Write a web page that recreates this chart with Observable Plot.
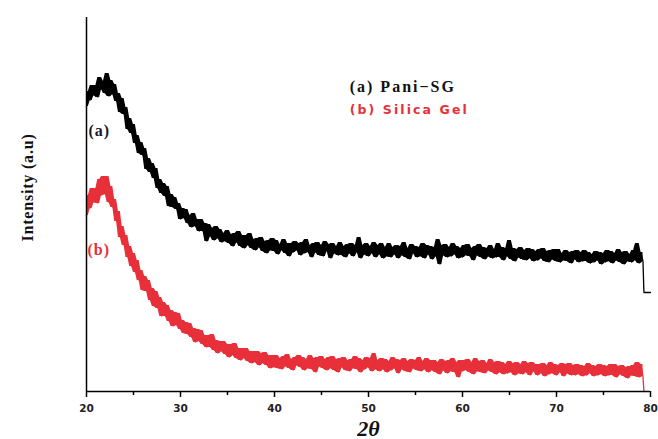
<!DOCTYPE html>
<html>
<head>
<meta charset="utf-8">
<script src="https://cdn.jsdelivr.net/npm/d3@7"></script>
<script src="https://cdn.jsdelivr.net/npm/@observablehq/plot@0.6"></script>
<style>
  html, body { margin: 0; padding: 0; background: #fff; }
  #chart { width: 658px; height: 439px; }
</style>
</head>
<body>
<div id="chart"></div>
<script>
// XRD scan: 2θ from 20°, step 0.2°
const scanStart = 20;
const scanStep = 0.2;

// (a) Pani-SG intensity (a.u.) (5 readings per degree)
const panisg = [
  285, 300, 291, 306, 296,   306, 294, 314, 302, 310,   298, 318, 295, 311, 297,
  307, 290, 298, 279, 293,   277, 284, 262, 273, 258,   267, 248, 256, 238, 249,
  236, 243, 222, 233, 219,   228, 213, 223, 203, 212,   198, 208, 195, 205, 185,
  197, 184, 194, 182, 188,   172, 183, 173, 182, 168,   176, 164, 178, 165, 172,
  160, 172, 160, 168, 150,   167, 155, 163, 151, 165,   153, 162, 149, 158, 150,
  161, 148, 157, 145, 158,   149, 160, 145, 156, 143,   156, 146, 158, 143, 152,
  141, 153, 144, 154, 140,   150, 138, 151, 141, 153,   140, 151, 137, 147, 141,
  152, 138, 148, 135, 148,   139, 150, 141, 148, 136,   149, 138, 152, 139, 146,
  134, 148, 139, 149, 136,   146, 135, 150, 140, 147,   133, 148, 138, 145, 136,
  149, 136, 145, 134, 147,   138, 148, 135, 146, 139,   154, 133, 146, 137, 148,
  135, 145, 138, 149, 134,   146, 137, 148, 133, 144,   135, 148, 134, 144, 137,
  146, 133, 145, 136, 149,   134, 143, 132, 147, 138,   145, 134, 144, 135, 148,
  133, 146, 137, 145, 132,   144, 135, 152, 127, 146,   136, 147, 134, 144, 135,
  148, 137, 145, 133, 143,   134, 146, 136, 147, 135,   143, 131, 145, 136, 147,
  134, 144, 132, 143, 135,   146, 133, 142, 134, 148,   134, 144, 131, 143, 135,
  151, 132, 143, 130, 142,   134, 144, 132, 141, 131,   143, 133, 142, 130, 140,
  131, 142, 133, 143, 130,   140, 129, 141, 132, 142,   130, 142, 129, 138, 131,
  141, 130, 139, 128, 140,   132, 141, 129, 139, 130,   141, 130, 139, 128, 137,
  129, 140, 131, 139, 127,   138, 129, 141, 130, 140,   128, 138, 131, 142, 129,
  139, 127, 140, 130, 137,   129, 141, 131, 148, 128,   139, 130
];

// (b) Silica gel intensity (a.u.) (5 readings per degree)
const silica = [
  176, 196, 183, 203, 189,   203, 188, 212, 196, 215,   197, 215, 189, 205, 184,
  192, 170, 180, 154, 165,   146, 156, 134, 145, 125,   138, 119, 131, 111, 121,
  101, 115, 100, 111, 91,    103, 85, 100, 83, 94,     75, 89, 75, 86, 70,
  81, 65, 79, 66, 78,        62, 71, 58, 69, 57,       68, 54, 63, 49, 62,
  50, 61, 47, 56, 44,        56, 44, 57, 41, 51,       38, 50, 40, 50, 37,
  47, 34, 47, 36, 48,        33, 43, 31, 43, 33,       43, 30, 40, 28, 40,
  29, 40, 26, 38, 28,        39, 26, 36, 23, 36,       24, 36, 23, 33, 22,
  35, 25, 37, 23, 32,        21, 34, 26, 36, 24,       34, 21, 32, 23, 36,
  22, 33, 19, 34, 25,        35, 23, 32, 21, 34,       23, 35, 21, 32, 19,
  33, 24, 34, 21, 31,        20, 32, 23, 35, 22,       33, 19, 31, 22, 34,
  24, 33, 20, 38, 22,        31, 20, 33, 22, 32,       19, 30, 21, 34, 23,
  32, 18, 31, 22, 33,        20, 30, 19, 32, 23,       31, 21, 34, 20, 30,
  22, 33, 19, 31, 21,        31, 19, 29, 17, 32,       21, 30, 18, 31, 20,
  33, 19, 29, 14, 31,        20, 31, 21, 32, 19,       29, 17, 33, 20, 30,
  19, 31, 18, 28, 21,        32, 19, 29, 17, 30,       19, 29, 17, 27, 18,
  30, 19, 28, 16, 29,        18, 27, 17, 30, 19,       28, 16, 29, 20, 27,
  16, 27, 18, 28, 15,        26, 17, 29, 18, 27,       16, 26, 19, 28, 15,
  27, 18, 28, 16, 26,        16, 27, 17, 26, 15,       25, 16, 28, 18, 26,
  15, 25, 16, 27, 17,        26, 15, 25, 16, 27,       16, 27, 14, 25, 17,
  26, 15, 24, 13, 25,        16, 26, 15, 29, 14,       27, 15
];

// end of scan: the traces drop at ~79.3°
const panisgTailAngles = [79.3, 80];
const panisgTail = [99, 99];
const silicaTailAngles = [79.3];
const silicaTail = [0];

const xTicks = [20, 30, 40, 50, 60, 70, 80];
const xMinorTicks = [25, 35, 45, 55, 65, 75];
const seriesNames = ["(a) Pani\u2212SG", "(b) Silica Gel"];
const curveTags = ["(a)", "(b)"];
const xTitle = "2\u03b8";
const yTitle = "Intensity (a.u)";

const red = "#e8303a";

function rows(values, tailAngles, tail) {
  const r = values.map((v, i) => ({angle: scanStart + i * scanStep, intensity: v}));
  tailAngles.forEach((a, i) => r.push({angle: a, intensity: tail[i]}));
  return r;
}
// dense-noise envelope: min / max of each reading and its neighbours
function band(values) {
  return values.map((v, i) => {
    const w = values.slice(Math.max(0, i - 1), i + 2);
    return {angle: scanStart + i * scanStep, lo: d3.min(w), hi: d3.max(w)};
  });
}
const aRows = rows(panisg, panisgTailAngles, panisgTail);
const bRows = rows(silica, silicaTailAngles, silicaTail);
const aBand = band(panisg);
const bBand = band(silica);

// annotation anchors (data space)
const legendPos = [{x: 48.0, y: 305}, {x: 48.0, y: 282}];
const tagPos = [{x: 20.2, y: 261}, {x: 20.1, y: 142}];

const serif = "'Liberation Serif', 'Times New Roman', serif";
const sans = "'DejaVu Sans', Verdana, sans-serif";

const chart = Plot.plot({
  width: 658,
  height: 439,
  marginTop: 17,
  marginBottom: 48,
  marginLeft: 86,
  marginRight: 8,
  x: {domain: [20, 80]},
  y: {domain: [0, 374], axis: null},
  style: {background: "#fff"},
  marks: [
    Plot.areaY(bBand, {x: "angle", y1: "lo", y2: "hi", fill: red}),
    Plot.line(bRows, {x: "angle", y: "intensity", stroke: red, strokeWidth: 1.3, strokeLinejoin: "miter"}),
    Plot.areaY(aBand, {x: "angle", y1: "lo", y2: "hi", fill: "#000"}),
    Plot.line(aRows, {x: "angle", y: "intensity", stroke: "#000", strokeWidth: 1.3, strokeLinejoin: "miter"}),
    Plot.ruleX([20], {stroke: "#000", strokeWidth: 1.5}),
    Plot.ruleY([0], {stroke: "#000", strokeWidth: 1.6}),
    Plot.axisX(xTicks, {tickSize: 6, tickPadding: 7, strokeWidth: 1.5, label: null,
      fontSize: 10.5, fontWeight: "bold", fontFamily: sans, fill: "#222"}),
    Plot.axisX(xMinorTicks, {tickSize: 4, strokeWidth: 1.5, label: null, tickFormat: () => ""}),
    Plot.text([xTitle], {frameAnchor: "bottom", lineAnchor: "bottom", dy: 44,
      fontSize: 22, fontStyle: "italic", fontWeight: "bold", fontFamily: serif, fill: "#111"}),
    Plot.text([yTitle], {frameAnchor: "left", textAnchor: "middle", rotate: -90, dx: -59, dy: -17,
      fontSize: 16, fontWeight: "bold", fontFamily: serif, fill: "#111"}),
    Plot.text([seriesNames[0]], {x: () => legendPos[0].x, y: () => legendPos[0].y, textAnchor: "start",
      fontSize: 16, fontWeight: "bold", fontFamily: serif, fill: "#111"}),
    Plot.text([seriesNames[1]], {x: () => legendPos[1].x, y: () => legendPos[1].y, textAnchor: "start",
      fontSize: 12.5, fontWeight: "bold", fontFamily: sans, fill: red}),
    Plot.text([curveTags[0]], {x: () => tagPos[0].x, y: () => tagPos[0].y, textAnchor: "start",
      fontSize: 16, fontWeight: "bold", fontFamily: serif, fill: "#1a1a2e"}),
    Plot.text([curveTags[1]], {x: () => tagPos[1].x, y: () => tagPos[1].y, textAnchor: "start",
      fontSize: 16, fontWeight: "bold", fontFamily: serif, fill: red})
  ]
});
document.getElementById("chart").appendChild(chart);
// letter spacing as in the original figure
const texts = d3.select(chart).selectAll("text");
texts.filter(function () { return this.textContent === yTitle; }).style("letter-spacing", "0.8px");
texts.filter(function () { return this.textContent === seriesNames[0]; }).style("letter-spacing", "2px");
texts.filter(function () { return this.textContent === seriesNames[1]; }).style("letter-spacing", "2.1px");
texts.filter(function () { return this.textContent === curveTags[0] || this.textContent === curveTags[1]; }).style("letter-spacing", "1px");
</script>
</body>
</html>
